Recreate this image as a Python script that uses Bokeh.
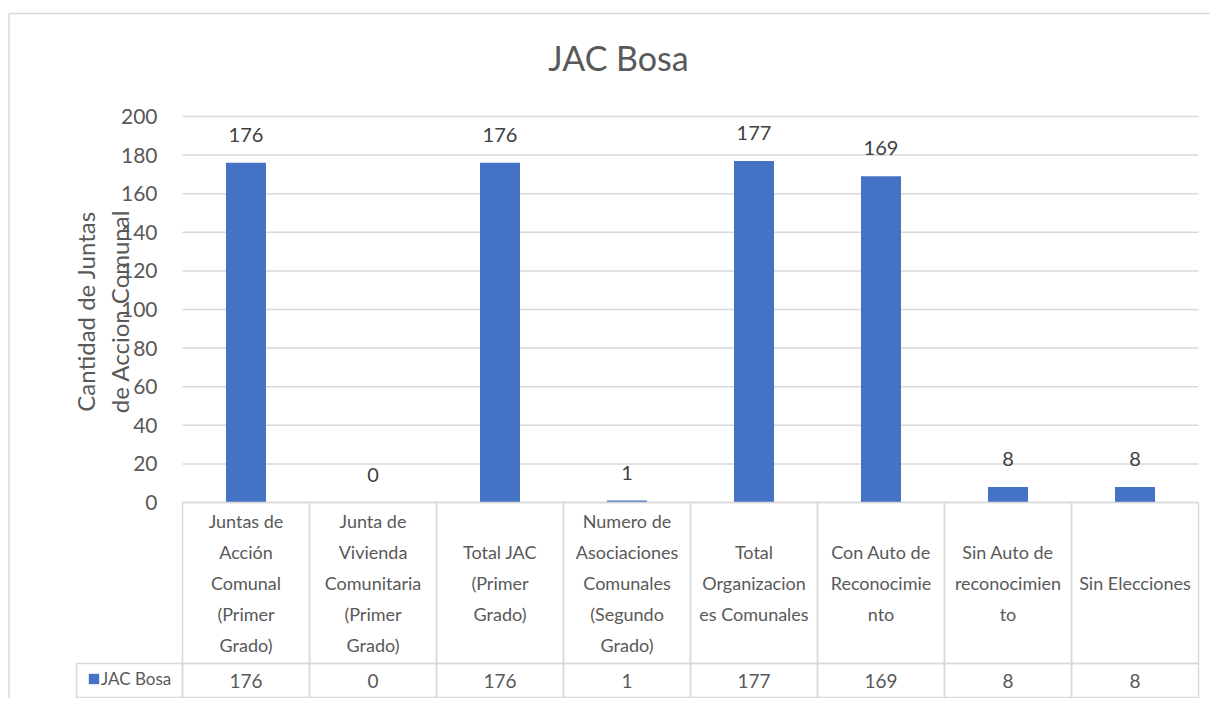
import math
import numpy as np
from bokeh.plotting import figure
from bokeh.models import (Range1d, LinearAxis, FixedTicker, ColumnDataSource, Label,
                          Legend, LegendItem, Grid)
from bokeh.embed import file_html
from bokeh.resources import INLINE
from bokeh.core.properties import value

# ---------------- data ----------------
title_text = "JAC Bosa"
series_name = "JAC Bosa"
y_axis_title = ["Cantidad de Juntas", "de Accion Comunal"]
categories = [
    "Juntas de\nAcción\nComunal\n(Primer\nGrado)",
    "Junta de\nVivienda\nComunitaria\n(Primer\nGrado)",
    "Total JAC\n(Primer\nGrado)",
    "Numero de\nAsociaciones\nComunales\n(Segundo\nGrado)",
    "Total\nOrganizacion\nes Comunales",
    "Con Auto de\nReconocimie\nnto",
    "Sin Auto de\nreconocimien\nto",
    "Sin Elecciones",
]
values = [176, 0, 176, 1, 177, 169, 8, 8]
y_ticks = [0, 20, 40, 60, 80, 100, 120, 140, 160, 180, 200]
y_max = 200

# ---------------- style / geometry (page pixels) ----------------
FONT = "Lato"
TEXT = "#595959"
LABEL = "#404040"
GRID = "#d9d9d9"
BAR = "#4472C4"

W, H = 1210, 698
cx0, cy0 = 0, 0                      # canvas origin on the page
plot_l, plot_r, plot_t, plot_b = 182, 1198, 116, 502
head_b, table_b, leg_l = 663, 697, 76
frame_l, frame_t = 8.5, 13
title_cx, title_cy = 618, 57

n = len(categories)
xs = np.arange(n) + 0.5
px_cat = (plot_r - plot_l) / n
px_val = (plot_b - plot_t) / y_max

x_start = -(plot_l - cx0) / px_cat
x_end = n + (cx0 + W - plot_r) / px_cat
y_end = y_max + (plot_t - cy0) / px_val
y_start = -(cy0 + H - plot_b) / px_val
y_head = -(head_b - plot_b) / px_val
y_tab = -(table_b - plot_b) / px_val
x_leg = -(plot_l - leg_l) / px_cat

p = figure(width=W, height=H, x_range=Range1d(x_start, x_end), y_range=Range1d(y_start, y_end),
           output_backend="svg", toolbar_location=None,
           x_axis_location=None, y_axis_location=None,
           min_border_left=0, min_border_right=0, min_border_top=0, min_border_bottom=0)
p.outline_line_color = None
p.background_fill_color = "white"
p.border_fill_color = "white"
for r in list(p.center):
    if isinstance(r, Grid):
        r.visible = False

# chart area border (top / left)
bx = -(plot_l - frame_l) / px_cat
by = y_max + (plot_t - frame_t) / px_val
p.segment(x0=[bx, bx], y0=[by, by], x1=[bx, x_end], y1=[y_start, by],
          line_color=GRID, line_width=1.5)

# gridlines at the value ticks
p.segment(x0=0, x1=n, y0=y_ticks, y1=y_ticks, line_color=GRID, line_width=1.5)

yaxis = LinearAxis(ticker=FixedTicker(ticks=y_ticks), fixed_location=0,
                   axis_line_color=None, major_tick_line_color=None, minor_tick_line_color=None,
                   major_tick_out=0, major_tick_in=0, major_label_standoff=25,
                   major_label_text_font=FONT, major_label_text_font_size="21px",
                   major_label_text_color=TEXT)
p.add_layout(yaxis, "left")

src = ColumnDataSource(dict(x=xs, top=values, lab=[str(v) for v in values]))
bars = p.vbar(x="x", top="top", bottom=0, width=0.315, source=src, fill_color=BAR, line_color=None)
p.text(x="x", y="top", text="lab", source=src, y_offset=-28,
       text_align="center", text_baseline="middle",
       text_font=value(FONT), text_font_size="20px", text_color=LABEL)

# data table: header row
p.rect(x=xs, y=y_head / 2, width=1, height=-y_head, fill_color=None, line_color=GRID, line_width=1.5)
hx, hy, hoff, ht = [], [], [], []
for i, c in enumerate(categories):
    lines = c.split("\n")
    m = len(lines)
    for j, ln in enumerate(lines):
        hx.append(xs[i]); hy.append(y_head / 2); hoff.append((j - (m - 1) / 2) * 31); ht.append(ln)
p.text(x=hx, y=hy, y_offset=hoff, text=ht, text_align="center", text_baseline="middle",
       text_font=value(FONT), text_font_size="18px", text_color=TEXT)

# data table: value row + legend cell
p.rect(x=xs, y=(y_head + y_tab) / 2, width=1, height=y_head - y_tab,
       fill_color=None, line_color=GRID, line_width=1.5)
p.rect(x=x_leg / 2, y=(y_head + y_tab) / 2, width=-x_leg, height=y_head - y_tab,
       fill_color=None, line_color=GRID, line_width=1.5)
p.text(x=xs, y=(y_head + y_tab) / 2, text=[str(v) for v in values],
       text_align="center", text_baseline="middle",
       text_font=value(FONT), text_font_size="19px", text_color=TEXT)

legend = Legend(items=[LegendItem(label=series_name, renderers=[bars])],
                location=(87, 9), glyph_width=13, glyph_height=13,
                label_text_font=FONT, label_text_font_size="17px", label_text_color=TEXT,
                padding=0, margin=0, spacing=0, label_standoff=1,
                border_line_color=None, background_fill_alpha=0)
p.add_layout(legend)

# title and axis title
p.add_layout(Label(x=(title_cx - plot_l) / px_cat, y=y_max + (plot_t - title_cy) / px_val,
                   text=title_text, text_align="center", text_baseline="middle",
                   text_font=FONT, text_font_size="34px", text_color=TEXT))
for k, cxp in enumerate([85, 119]):
    p.add_layout(Label(x=(cxp - plot_l) / px_cat, y=(plot_b - 311) / px_val,
                       text=y_axis_title[k], angle=math.pi / 2,
                       text_align="center", text_baseline="middle",
                       text_font=FONT, text_font_size="24px", text_color=TEXT))

open("out.html", "w").write(file_html(p, INLINE))
